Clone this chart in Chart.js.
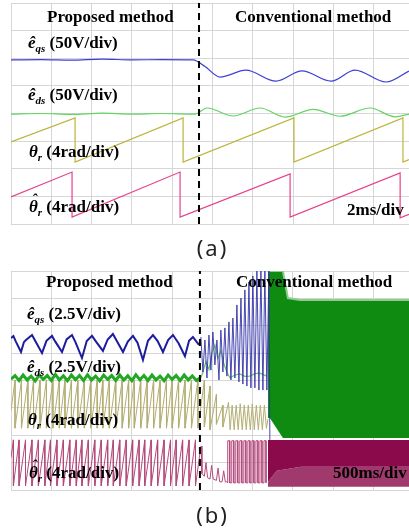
<!DOCTYPE html>
<html>
<head>
<meta charset="utf-8">
<script src="https://cdn.jsdelivr.net/npm/chart.js@4.4.1/dist/chart.umd.min.js"></script>
<style>
  html, body { margin: 0; padding: 0; background: #fff; }
  #wrap { position: relative; width: 409px; height: 529px; overflow: hidden; background: #fff; }
  canvas { position: absolute; left: 0; }
  .lbl { position: absolute; font-family: "Liberation Serif", "Times New Roman", serif; font-weight: bold;
         font-size: 17px; line-height: 17px; color: #000; white-space: nowrap; }
  .sym { font-style: italic; }
  .hat { font-style: italic; position: relative; display: inline-block; }
  .hat i { position: absolute; left: 3px; top: -7px; font-size: 15px; }
  .sub { font-style: italic; font-size: 11px; position: relative; top: 4px; }
  .cap { position: absolute; left: 8px; width: 409px; text-align: center; font-family: "Noto Sans", "DejaVu Sans", sans-serif;
         font-size: 22px; line-height: 22px; letter-spacing: 2px; color: #222; }
</style>
</head>
<body>
<div id="wrap">
  <canvas id="chart-a" width="409" height="226" style="top:0"></canvas>
  <canvas id="chart-b" width="409" height="224" style="top:268px"></canvas>

  <div class="lbl" style="left:47px;top:8px">Proposed method</div>
  <div class="lbl" style="left:235px;top:8px">Conventional method</div>
  <div class="lbl" style="left:28px;top:34px"><span class="sym">ê</span><span class="sub">qs</span> (50V/div)</div>
  <div class="lbl" style="left:28px;top:86px"><span class="sym">ê</span><span class="sub">ds</span> (50V/div)</div>
  <div class="lbl" style="left:29px;top:143px"><span class="sym">θ</span><span class="sub">r</span> (4rad/div)</div>
  <div class="lbl" style="left:29px;top:198px"><span class="hat">θ<i>ˆ</i></span><span class="sub">r</span> (4rad/div)</div>
  <div class="lbl" style="left:347px;top:201px">2ms/div</div>
  <div class="cap" style="top:236px">(a)</div>

  <div class="lbl" style="left:46px;top:273px">Proposed method</div>
  <div class="lbl" style="left:236px;top:273px">Conventional method</div>
  <div class="lbl" style="left:27px;top:305px"><span class="sym">ê</span><span class="sub">qs</span> (2.5V/div)</div>
  <div class="lbl" style="left:27px;top:358px"><span class="sym">ê</span><span class="sub">ds</span> (2.5V/div)</div>
  <div class="lbl" style="left:28px;top:411px"><span class="sym">θ</span><span class="sub">r</span> (4rad/div)</div>
  <div class="lbl" style="left:29px;top:464px"><span class="hat">θ<i>ˆ</i></span><span class="sub">r</span> (4rad/div)</div>
  <div class="lbl" style="left:333px;top:464px">500ms/div</div>
  <div class="cap" style="top:503px">(b)</div>
</div>

<script>
// ---- panel (a): time in ms (2 ms/div), values in screen divisions (0 = bottom, 8 = top)
const aTimeMax = 19.75;
const aGridX = [0, 2, 4, 6, 8, 10, 12, 14, 16, 18];
const aSwitchT = 9.33;

const aEqsT = [0, 1.5, 3, 4.5, 6, 7.5, 9.03, 9.63, 10.37, 11.66, 13.15, 14.44, 15.88, 17.07, 18.61, 19.75];
const aEqsV = [5.94, 5.95, 5.93, 5.97, 5.94, 5.95, 5.94, 5.70, 5.32, 5.57, 5.17, 5.54, 5.17, 5.57, 5.14, 5.54];

const aEdsT = [0, 1.5, 3, 4.5, 6, 7.5, 9.13, 9.73, 11.02, 12.36, 13.60, 14.99, 16.33, 17.82, 19.06, 19.75];
const aEdsV = [3.98, 4.00, 3.97, 4.01, 3.98, 4.00, 3.98, 4.20, 3.91, 4.20, 3.87, 4.15, 3.90, 4.20, 3.88, 3.98];

const aThetaT = [0, 3.18, 3.18, 8.54, 8.54, 14.04, 14.04, 19.45, 19.45, 19.75];
const aThetaV = [2.97, 3.84, 2.24, 3.84, 2.24, 3.84, 2.24, 3.84, 2.24, 2.33];

const aThetaHatT = [0, 3.03, 3.03, 8.39, 8.39, 13.85, 13.85, 19.31, 19.31, 19.75];
const aThetaHatV = [0.98, 1.88, 0.25, 1.88, 0.25, 1.81, 0.25, 1.85, 0.22, 0.35];

// ---- panel (b): time in s (500 ms/div), values in screen divisions
const bTimeMax = 4.94;
const bGridX = [0, 0.5, 1, 1.5, 2, 2.5, 3, 3.5, 4, 4.5];
const bSwitchT = 2.345;

const bEqsPropT = [0, 0.03, 0.062, 0.124, 0.16, 0.186, 0.261, 0.30, 0.385, 0.44, 0.509, 0.55, 0.633, 0.69, 0.757, 0.80, 0.881, 0.94, 1.005, 1.06, 1.141, 1.20, 1.265, 1.31, 1.390, 1.45, 1.514, 1.57, 1.638, 1.70, 1.762, 1.82, 1.886, 1.95, 2.010, 2.08, 2.159, 2.21, 2.258, 2.333];
const bEqsPropV = [5.55, 5.62, 5.41, 5.04, 5.40, 5.48, 5.66, 5.45, 5.00, 5.45, 5.63, 5.42, 5.04, 5.50, 5.66, 5.40, 4.82, 5.44, 5.63, 5.40, 5.08, 5.50, 5.70, 5.46, 5.04, 5.42, 5.63, 5.38, 4.75, 5.45, 5.66, 5.44, 5.04, 5.48, 5.66, 5.36, 4.89, 5.45, 5.59, 5.30];

const bEqsConvT = [2.357, 2.382, 2.407, 2.432, 2.457, 2.481, 2.506, 2.531, 2.556, 2.581, 2.605, 2.630, 2.655, 2.680, 2.705, 2.730, 2.754, 2.779, 2.804, 2.829, 2.854, 2.878, 2.903, 2.928, 2.953, 2.978, 3.002, 3.027, 3.052, 3.077, 3.102, 3.127, 3.151, 3.176, 3.201, 3.213];
const bEqsConvV = [5.59, 4.31, 5.48, 4.09, 5.66, 4.38, 5.77, 4.57, 5.48, 4.02, 5.84, 4.31, 5.92, 4.16, 6.14, 4.02, 6.28, 4.09, 6.76, 3.95, 7.01, 3.87, 7.31, 3.80, 7.60, 3.73, 7.82, 3.73, 8.00, 3.65, 8.00, 3.65, 8.00, 3.65, 8.00, 1.83];

// e_ds ripple, sampled every 50 ms
const bEdsStep = 0.05;
const bEdsPropV = [4.05, 4.18, 4.00, 4.20, 4.02, 4.16, 3.98, 4.20, 4.04, 4.18, 4.00, 4.22, 4.02, 4.17, 3.99, 4.20, 4.03, 4.18, 4.00, 4.21, 4.02, 4.16, 3.99, 4.20, 4.04, 4.18, 4.00, 4.20, 4.02, 4.17, 3.99, 4.21, 4.03, 4.18, 4.00, 4.20, 4.02, 4.16, 3.99, 4.20, 4.04, 4.18, 4.00, 4.20, 4.02, 4.17, 4.00, 4.10];
const bEdsConvT = [2.345, 2.382, 2.419, 2.457, 2.494, 2.531, 2.568, 2.605, 2.643, 2.680, 2.717, 2.78, 2.841, 2.90, 2.965, 3.03, 3.089, 3.176];
const bEdsConvV = [4.02, 4.30, 4.70, 4.40, 5.00, 5.30, 4.80, 5.10, 4.60, 4.30, 4.10, 4.20, 4.24, 4.15, 4.16, 4.25, 4.27, 4.16];

// saturated region after divergence (envelopes)
const bGreenTopT = [3.189, 3.375, 3.437, 3.586, 4.94];
const bGreenTopV = [8.00, 8.00, 7.01, 6.94, 6.94];
const bGreenBotT = [3.189, 3.213, 3.375, 4.94];
const bGreenBotV = [2.63, 2.63, 1.90, 1.90];
const bMaroonTopT = [3.189, 4.94];
const bMaroonTopV = [1.83, 1.83];
const bMaroonMidT = [3.189, 3.30, 3.60, 4.94];
const bMaroonMidV = [0.30, 0.70, 0.85, 0.85];
const bMaroonBotT = [3.189, 4.94];
const bMaroonBotV = [0.12, 0.12];

// theta_r sawtooth: reset instants, ramp range
const bThetaReset = [0.05, 0.13, 0.21, 0.28, 0.36, 0.44, 0.52, 0.60, 0.67, 0.75, 0.83, 0.91, 0.99, 1.07, 1.14, 1.22, 1.30, 1.38, 1.46, 1.53, 1.61, 1.69, 1.77, 1.85, 1.93, 2.00, 2.08, 2.16, 2.24, 2.32];
const bThetaLo = 2.26, bThetaHi = 4.02;
const bThetaConvT = [2.40, 2.40, 2.47, 2.47, 2.55, 2.55, 2.63, 2.63, 2.70, 2.72, 2.745, 2.77, 2.795, 2.82, 2.845, 2.87, 2.895, 2.92, 2.945, 2.97, 2.995, 3.02, 3.045, 3.07, 3.095, 3.12, 3.145, 3.17, 3.19];
const bThetaConvV = [4.00, 2.30, 3.80, 2.20, 3.50, 2.40, 3.10, 2.30, 3.20, 2.20, 3.10, 2.20, 3.10, 2.20, 3.15, 2.20, 3.10, 2.20, 3.10, 2.20, 3.15, 2.20, 3.10, 2.20, 3.10, 2.20, 3.10, 2.25, 2.60];

// theta_r hat sawtooth
const bThetaHatReset = [0.03, 0.10, 0.18, 0.26, 0.34, 0.42, 0.49, 0.57, 0.65, 0.73, 0.81, 0.88, 0.96, 1.04, 1.12, 1.20, 1.27, 1.35, 1.43, 1.51, 1.59, 1.66, 1.74, 1.82, 1.90, 1.98, 2.05, 2.13, 2.21, 2.29];
const bThetaHatLo = 0.15, bThetaHatHi = 1.83;
const bThetaHatConvT = [2.345, 2.36, 2.37, 2.40, 2.42, 2.44, 2.47, 2.49, 2.51, 2.55, 2.57, 2.59, 2.62, 2.64, 2.66, 2.68];
const bThetaHatConvV = [1.35, 1.60, 0.60, 0.50, 1.00, 0.45, 0.40, 0.90, 0.40, 0.35, 0.80, 0.30, 0.30, 0.70, 0.30, 0.30];
const bThetaHatPulse = [2.69, 2.74, 2.79, 2.84, 2.89, 2.94, 2.99, 3.04, 3.09, 3.14];
const bPulseWidth = 0.025, bPulseLo = 0.26, bPulseHi = 1.80;

function pts(ts, vs) {
    return ts.map((t, i) => ({ x: t, y: vs[i] }));
}

function sawtooth(t0, v0, resets, lo, hi) {
    const p = [{ x: t0, y: v0 }];
    resets.forEach(r => {
        p.push({ x: r, y: hi });
        p.push({ x: r, y: lo });
    });
    return p;
}

function trace(data, color, width, extra) {
    return Object.assign({
        data: data,
        borderColor: color,
        borderWidth: width,
        pointRadius: 0,
        fill: false,
        tension: 0
    }, extra || {});
}

function switchLine(t) {
    return trace([{ x: t, y: 0 }, { x: t, y: 8 }], '#000', 2, { borderDash: [7, 5] });
}

function makeChart(id, xMax, gridX, datasets) {
    const gridY = [0, 1, 2, 3, 4, 5, 6, 7, 8];
    const axis = (min, max, ticks) => ({
        type: 'linear',
        min: min,
        max: max,
        afterBuildTicks: scale => { scale.ticks = ticks.map(v => ({ value: v })); },
        ticks: { display: false },
        grid: { color: '#d6d6d6', lineWidth: 1, drawTicks: false },
        border: { display: false }
    });
    return new Chart(document.getElementById(id), {
        type: 'line',
        data: { datasets: datasets },
        options: {
            responsive: false,
            animation: false,
            events: [],
            layout: { padding: { left: 11, right: 0, top: 3, bottom: 2 } },
            plugins: { legend: { display: false }, tooltip: { enabled: false } },
            scales: { x: axis(0, xMax, gridX), y: axis(0, 8, gridY) }
        }
    });
}

// panel (a)
makeChart('chart-a', aTimeMax, aGridX, [
    switchLine(aSwitchT),
    trace(pts(aEqsT, aEqsV), '#3d3fd4', 1.2, { cubicInterpolationMode: 'monotone' }),
    trace(pts(aEdsT, aEdsV), '#62d462', 1.2, { cubicInterpolationMode: 'monotone' }),
    trace(pts(aThetaT, aThetaV), '#bdb53c', 1.2),
    trace(pts(aThetaHatT, aThetaHatV), '#e8418b', 1.2)
]);

// panel (b)
const thetaB = sawtooth(0, 2.9, bThetaReset, bThetaLo, bThetaHi).concat(pts(bThetaConvT, bThetaConvV));
const pulses = [];
bThetaHatPulse.forEach(t => {
    pulses.push({ x: t, y: bPulseLo }, { x: t, y: bPulseHi }, { x: t + bPulseWidth, y: bPulseHi }, { x: t + bPulseWidth, y: bPulseLo });
});
const thetaHatB = sawtooth(0, 1.18, bThetaHatReset, bThetaHatLo, bThetaHatHi)
    .concat(pts(bThetaHatConvT, bThetaHatConvV)).concat(pulses);
const edsPropB = bEdsPropV.map((v, i) => ({ x: i * bEdsStep, y: v }));

makeChart('chart-b', bTimeMax, bGridX, [
    switchLine(bSwitchT),
    trace(pts(bEqsPropT, bEqsPropV), '#1c1c9e', 2),
    trace(pts(bEqsConvT, bEqsConvV), '#3434a8', 0.9),
    trace(pts(bGreenTopT, bGreenTopV), '#8ccc8c', 2, { fill: '+1', backgroundColor: '#0f8b12' }),
    trace(pts(bGreenBotT, bGreenBotV), '#0f8b12', 0),
    trace(pts(bMaroonTopT, bMaroonTopV), '#8c0c4e', 0, { fill: '+1', backgroundColor: '#8a0a4c' }),
    trace(pts(bMaroonMidT, bMaroonMidV), '#9c2d64', 0, { fill: '+1', backgroundColor: '#a03a6c' }),
    trace(pts(bMaroonBotT, bMaroonBotV), '#a03a6c', 0),
    trace(edsPropB, '#23a823', 3),
    trace(pts(bEdsConvT, bEdsConvV), '#6cc06c', 1.2),
    trace(thetaB, '#b3ae72', 1),
    trace(thetaHatB, '#b44a7c', 1)
]);
</script>
</body>
</html>
